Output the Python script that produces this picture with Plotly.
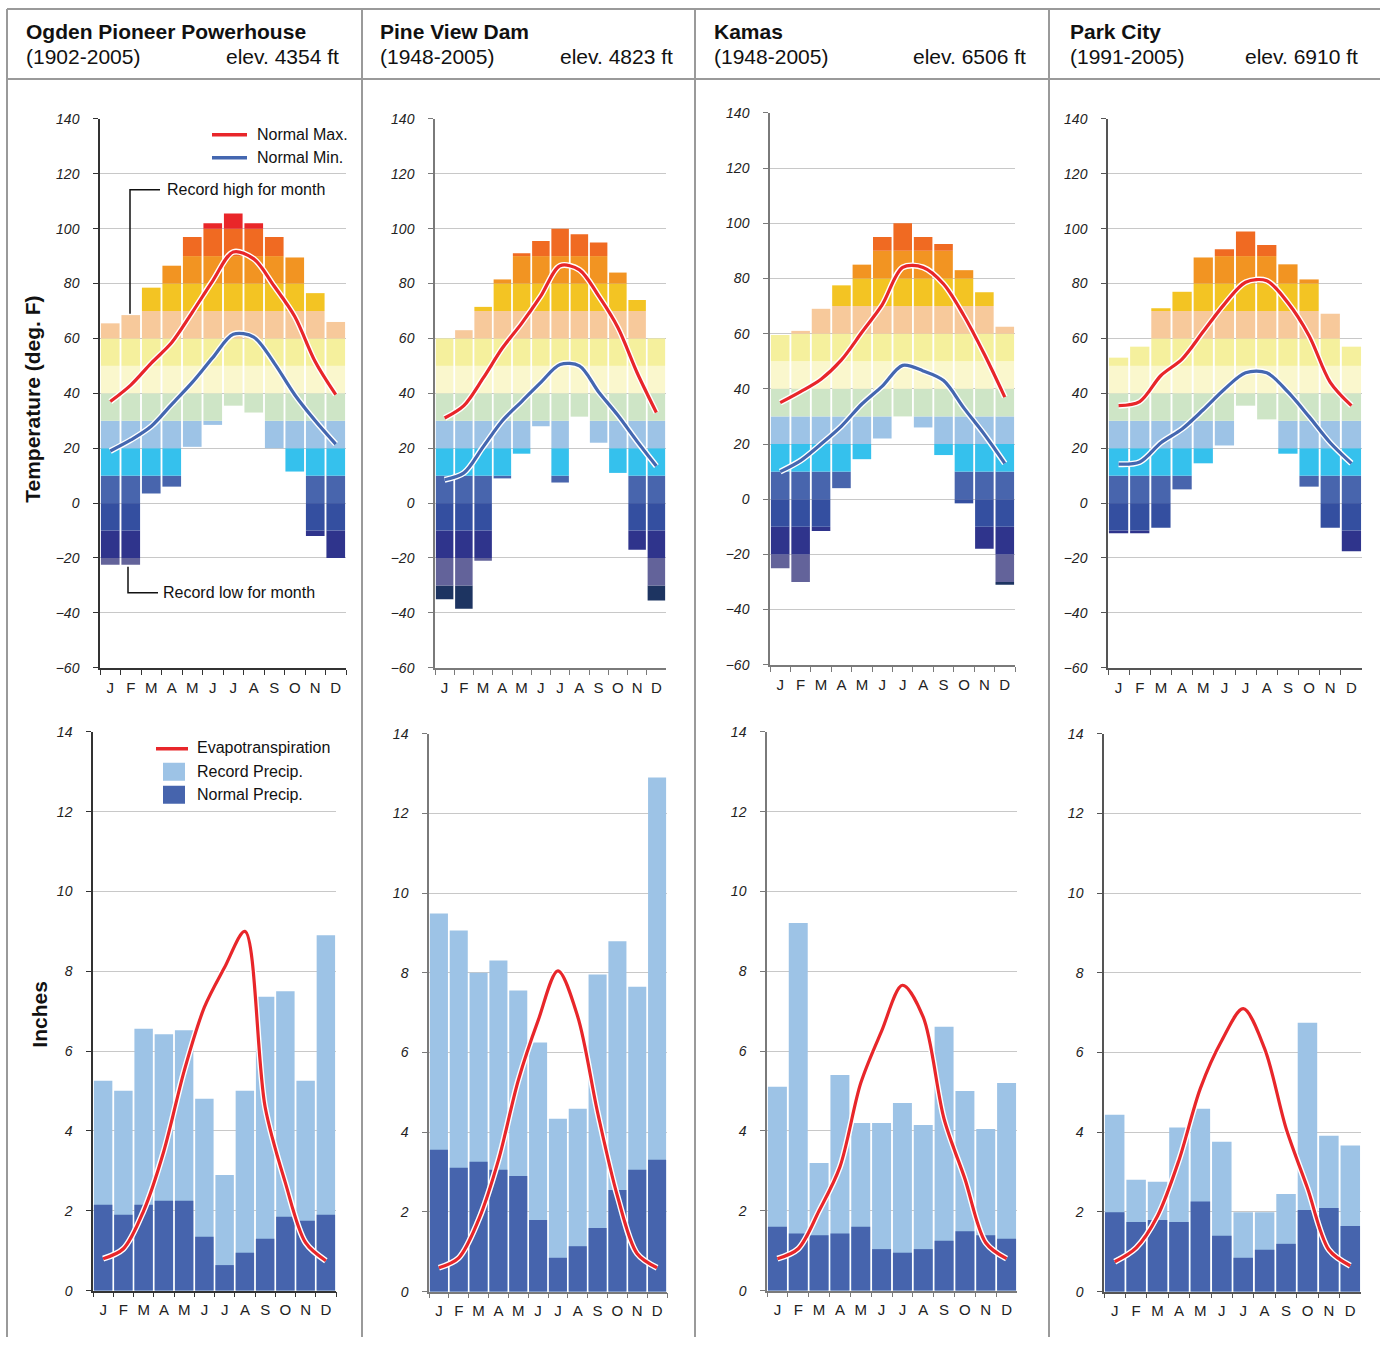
import plotly.graph_objects as go

W, H = 1380, 1345

MONTHS = ["Jan", "Feb", "Mar", "Apr", "May", "Jun", "Jul", "Aug", "Sep", "Oct", "Nov", "Dec"]
MONTH_LABELS = ["J", "F", "M", "A", "M", "J", "J", "A", "S", "O", "N", "D"]

STATIONS = ["Ogden Pioneer Powerhouse", "Pine View Dam", "Kamas", "Park City"]
PERIODS = ["(1902-2005)", "(1948-2005)", "(1948-2005)", "(1991-2005)"]
ELEVATIONS = ["elev. 4354 ft", "elev. 4823 ft", "elev. 6506 ft", "elev. 6910 ft"]

# temperature bands (deg F) and their colours
BAND_EDGES = [-40, -30, -20, -10, 0, 10, 20, 30, 40, 50, 60, 70, 80, 90, 100, 110]
BAND_COLORS = ["#1d3461", "#63639a", "#2f348c", "#344fa0", "#4865ad", "#35c1ed",
               "#9dc3e6", "#cee5c6", "#faf7cd", "#f5f09d", "#f7c99b", "#f3c423",
               "#f29422", "#f06a22", "#e92629"]

# ---- Ogden Pioneer Powerhouse ----
ogden_rec_high = [65.5, 68.5, 78.5, 86.5, 97, 102, 105.5, 102, 97, 89.5, 76.5, 66]
ogden_rec_low = [-22.5, -22.5, 3.5, 6, 20.5, 28.5, 35.5, 33, 20, 11.5, -12, -20]
ogden_norm_max = [37, 43, 51, 58.5, 69.5, 81, 91.5, 89, 79, 68, 51.5, 39.5]
ogden_norm_min = [19, 23, 28, 36, 44, 53, 61.5, 60.5, 51, 39.5, 30, 21.5]
ogden_rec_precip = [5.26, 5.01, 6.56, 6.42, 6.52, 4.81, 2.9, 5.01, 7.36, 7.5, 5.26, 8.9]
ogden_norm_precip = [2.15, 1.9, 2.15, 2.25, 2.25, 1.35, 0.64, 0.95, 1.3, 1.85, 1.75, 1.9]
ogden_et = [0.8, 1.05, 2.0, 3.5, 5.5, 7.1, 8.1, 9.0, 4.6, 2.7, 1.2, 0.75]

# ---- Pine View Dam ----
pine_rec_high = [60, 63, 71.5, 81.5, 91, 95.5, 100, 98, 95, 84, 74, 60]
pine_rec_low = [-35, -38.5, -21, 9, 18, 28, 7.5, 31.5, 22, 11, -17, -35.5]
pine_norm_max = [31, 35.5, 45.5, 56.5, 65.5, 75.5, 86.5, 85, 75.5, 64, 47.5, 33]
pine_norm_min = [8.5, 11, 20.5, 30, 37, 44, 50.5, 50, 40.5, 32, 22.5, 13.5]
pine_rec_precip = [9.49, 9.06, 8.0, 8.31, 7.56, 6.25, 4.34, 4.59, 7.96, 8.79, 7.65, 12.9]
pine_norm_precip = [3.56, 3.11, 3.26, 3.06, 2.9, 1.8, 0.85, 1.14, 1.6, 2.55, 3.06, 3.31]
pine_et = [0.6, 0.85, 1.8, 3.3, 5.3, 6.8, 8.05, 6.9, 4.5, 2.4, 0.95, 0.6]

# ---- Kamas ----
kamas_rec_high = [59.5, 61, 69, 77.5, 85, 95, 100, 95, 92.5, 83, 75, 62.5]
kamas_rec_low = [-25, -30, -11.5, 4, 14.5, 22, 30, 26, 16, -1.5, -18, -31]
kamas_norm_max = [35, 39, 43.5, 50.5, 60.5, 70.5, 84, 84, 78, 66.5, 52.5, 37]
kamas_norm_min = [10, 14, 20, 26.5, 34.5, 41, 48.5, 46.5, 43, 33, 23.5, 13]
kamas_rec_precip = [5.11, 9.21, 3.2, 5.4, 4.2, 4.2, 4.7, 4.15, 6.61, 5.0, 4.05, 5.2]
kamas_norm_precip = [1.6, 1.43, 1.39, 1.43, 1.6, 1.04, 0.95, 1.04, 1.25, 1.49, 1.39, 1.3]
kamas_et = [0.8, 1.05, 2.0, 3.1, 5.2, 6.5, 7.65, 6.85, 4.3, 2.8, 1.2, 0.8]

# ---- Park City ----
park_rec_high = [53, 57, 71, 77, 89.5, 92.5, 99, 94, 87, 81.5, 69, 57]
park_rec_low = [-11, -11, -9, 5, 14.5, 21, 35.5, 30.5, 18, 6, -9, -17.5]
park_norm_max = [35.5, 37, 46.5, 52.5, 62.5, 72.5, 80.5, 81, 73, 61, 44, 35.5]
park_norm_min = [14.2, 15, 22, 27, 34, 41.5, 47.5, 47.5, 40.5, 31.5, 22, 14.5]
park_rec_precip = [4.44, 2.81, 2.76, 4.12, 4.59, 3.76, 1.99, 1.99, 2.45, 6.75, 3.91, 3.67]
park_norm_precip = [1.99, 1.75, 1.8, 1.75, 2.26, 1.4, 0.85, 1.05, 1.2, 2.05, 2.1, 1.65]
park_et = [0.75, 1.1, 1.9, 3.3, 5.1, 6.3, 7.1, 6.1, 4.1, 2.6, 1.05, 0.65]

DATA = [
    (ogden_rec_high, ogden_rec_low, ogden_norm_max, ogden_norm_min, ogden_rec_precip, ogden_norm_precip, ogden_et),
    (pine_rec_high, pine_rec_low, pine_norm_max, pine_norm_min, pine_rec_precip, pine_norm_precip, pine_et),
    (kamas_rec_high, kamas_rec_low, kamas_norm_max, kamas_norm_min, kamas_rec_precip, kamas_norm_precip, kamas_et),
    (park_rec_high, park_rec_low, park_norm_max, park_norm_min, park_rec_precip, park_norm_precip, park_et),
]

# layout boxes in pixels: (x0, x1, ytop, ybottom)
TEMP_BOX = [(100, 346, 118, 667), (435, 666, 118, 667), (770, 1015, 112, 664), (1108, 1362, 118, 667)]
PREC_BOX = [(93, 336, 731, 1290), (429, 667, 733, 1291), (767, 1017, 731, 1290), (1104, 1361, 733, 1291)]
AXIS_LINE = ["#333333", "#7a7a7a", "#7a7a7a", "#555555"]

FONT = "Arial, Liberation Sans, sans-serif"
RED = "#e8262a"
BLUE = "#4467b0"
LIGHT_P = "#9dc3e6"
DARK_P = "#4664ad"

# vertical placement correction measured from the rendered page
Y_OFF, Y_SCALE = 7.1, 0.9883


def px(x):
    return x / W


def py(y):
    return 1 - ((y - Y_OFF) / Y_SCALE) / H


fig = go.Figure()
layout = {}

for i in range(4):
    rec_high, rec_low, nmax, nmin, rprec, nprec, et = DATA[i]
    tx, ty = f"x{2 * i + 1}", f"y{2 * i + 1}"
    bx, by = f"x{2 * i + 2}", f"y{2 * i + 2}"

    # temperature band bars
    for b in range(len(BAND_COLORS)):
        lo_b, hi_b = BAND_EDGES[b], BAND_EDGES[b + 1]
        bases, heights = [], []
        for m in range(12):
            lo = max(rec_low[m], lo_b)
            hi = min(rec_high[m], hi_b)
            bases.append(lo)
            heights.append(max(0, hi - lo))
        fig.add_trace(go.Bar(x=MONTHS, y=heights, base=bases, marker=dict(color=BAND_COLORS[b], line=dict(width=0)),
                             xaxis=tx, yaxis=ty, showlegend=False, hoverinfo="skip"))
    for series, col in ((nmax, RED), (nmin, BLUE)):
        fig.add_trace(go.Scatter(x=MONTHS, y=series, mode="lines",
                                 line=dict(color="white", width=6, shape="spline", smoothing=0.9),
                                 xaxis=tx, yaxis=ty, showlegend=False, hoverinfo="skip"))
        fig.add_trace(go.Scatter(x=MONTHS, y=series, mode="lines",
                                 line=dict(color=col, width=3.2, shape="spline", smoothing=0.9),
                                 xaxis=tx, yaxis=ty, showlegend=False))

    # precipitation
    fig.add_trace(go.Bar(x=MONTHS, y=rprec, marker=dict(color=LIGHT_P, line=dict(width=0)),
                         xaxis=bx, yaxis=by, showlegend=False))
    fig.add_trace(go.Bar(x=MONTHS, y=nprec, marker=dict(color=DARK_P, line=dict(width=0)),
                         xaxis=bx, yaxis=by, showlegend=False))
    fig.add_trace(go.Scatter(x=MONTHS, y=et, mode="lines",
                             line=dict(color="white", width=6, shape="spline", smoothing=0.9),
                             xaxis=bx, yaxis=by, showlegend=False, hoverinfo="skip"))
    fig.add_trace(go.Scatter(x=MONTHS, y=et, mode="lines",
                             line=dict(color=RED, width=3.2, shape="spline", smoothing=0.9),
                             xaxis=bx, yaxis=by, showlegend=False))

    for k, (box, rng, dt) in enumerate(((TEMP_BOX[i], [-60, 140], 20), (PREC_BOX[i], [0, 14], 2))):
        n = 2 * i + 1 + k
        x0, x1, yt, yb = box
        xa = dict(domain=[px(x0), px(x1)], anchor=f"y{n}", type="category",
                  categoryorder="array", categoryarray=MONTHS,
                  tickmode="array", tickvals=MONTHS, ticktext=MONTH_LABELS, tickangle=0,
                  tickson="boundaries", ticks="outside", ticklen=5, tickcolor=AXIS_LINE[i],
                  ticklabelstandoff=5,
                  showline=True, linecolor=AXIS_LINE[i], linewidth=1.5, showgrid=False,
                  tickfont=dict(family=FONT, size=15, color="#222"), fixedrange=True)
        ya = dict(domain=[py(yb), py(yt)], anchor=f"x{n}", range=rng, dtick=dt, tick0=0,
                  showgrid=True, gridcolor="#c8c8c8", gridwidth=1, zeroline=False,
                  showline=True, linecolor=AXIS_LINE[i], linewidth=1.5,
                  ticks="outside", ticklen=5, tickcolor=AXIS_LINE[i], ticklabelstandoff=11,
                  tickfont=dict(family=FONT, size=14, color="#222", style="italic"), fixedrange=True)
        layout["xaxis" if n == 1 else f"xaxis{n}"] = xa
        layout["yaxis" if n == 1 else f"yaxis{n}"] = ya

shapes = []
annotations = []

# frame lines
GRAY = "#9a9a9a"
shapes.append(dict(type="line", xref="paper", yref="paper", x0=px(7), x1=1, y0=py(8), y1=py(8), line=dict(color=GRAY, width=2)))
shapes.append(dict(type="line", xref="paper", yref="paper", x0=px(7), x1=1, y0=py(78), y1=py(78), line=dict(color=GRAY, width=2)))
for xv in (7, 362, 695, 1049):
    shapes.append(dict(type="line", xref="paper", yref="paper", x0=px(xv), x1=px(xv), y0=py(8), y1=0,
                       line=dict(color=GRAY, width=2)))

# headers
TITLE_X = [24, 378, 712, 1068]
ELEV_X = [341, 675, 1028, 1360]
HFONT = dict(family=FONT, size=21, color="#111")
for i in range(4):
    annotations.append(dict(text=f"<b>{STATIONS[i]}</b>", x=px(TITLE_X[i]), y=py(31), xref="paper", yref="paper",
                            xanchor="left", yanchor="middle", showarrow=False, font=HFONT))
    annotations.append(dict(text=PERIODS[i], x=px(TITLE_X[i]), y=py(56), xref="paper", yref="paper",
                            xanchor="left", yanchor="middle", showarrow=False, font=HFONT))
    annotations.append(dict(text=ELEVATIONS[i], x=px(ELEV_X[i]), y=py(56), xref="paper", yref="paper",
                            xanchor="right", yanchor="middle", showarrow=False, font=HFONT))

# axis titles
annotations.append(dict(text="<b>Temperature (deg. F)</b>", x=px(33), y=py(399), xref="paper", yref="paper",
                        xanchor="center", yanchor="middle",
                        textangle=-90, showarrow=False, font=dict(family=FONT, size=21, color="#111")))
annotations.append(dict(text="<b>Inches</b>", x=px(40), y=py(1014), xref="paper", yref="paper",
                        xanchor="center", yanchor="middle",
                        textangle=-90, showarrow=False, font=dict(family=FONT, size=21, color="#111")))

small = dict(family=FONT, size=16, color="#111")

# temperature legend
for yv, col, lab in ((134, RED, "Normal Max."), (157, BLUE, "Normal Min.")):
    shapes.append(dict(type="line", xref="paper", yref="paper", x0=px(212), x1=px(247), y0=py(yv), y1=py(yv),
                       line=dict(color=col, width=3.5)))
    annotations.append(dict(text=lab, x=px(255), y=py(yv), xref="paper", yref="paper", xanchor="left",
                            yanchor="middle", showarrow=False, font=small))

# record high / low callouts
shapes.append(dict(type="path", xref="paper", yref="paper",
                   path=f"M {px(160)},{py(189)} L {px(130)},{py(189)} L {px(130)},{py(313)}",
                   line=dict(color="#111", width=1.5)))
annotations.append(dict(text="Record high for month", x=px(165), y=py(189), xref="paper", yref="paper",
                        xanchor="left", yanchor="middle", showarrow=False, font=small))
shapes.append(dict(type="path", xref="paper", yref="paper",
                   path=f"M {px(128)},{py(566)} L {px(128)},{py(592)} L {px(158)},{py(592)}",
                   line=dict(color="#111", width=1.5)))
annotations.append(dict(text="Record low for month", x=px(161), y=py(592), xref="paper", yref="paper",
                        xanchor="left", yanchor="middle", showarrow=False, font=small))

# precipitation legend
shapes.append(dict(type="line", xref="paper", yref="paper", x0=px(156), x1=px(188), y0=py(748), y1=py(748),
                   line=dict(color=RED, width=3.5)))
annotations.append(dict(text="Evapotranspiration", x=px(195), y=py(747), xref="paper", yref="paper",
                        xanchor="left", yanchor="middle", showarrow=False, font=small))
for (y0, y1, col, lab) in ((762, 780, LIGHT_P, "Record Precip."), (785, 803, DARK_P, "Normal Precip.")):
    shapes.append(dict(type="rect", xref="paper", yref="paper", x0=px(163), x1=px(185), y0=py(y1), y1=py(y0),
                       fillcolor=col, line=dict(width=0)))
    annotations.append(dict(text=lab, x=px(195), y=py((y0 + y1) / 2), xref="paper", yref="paper",
                            xanchor="left", yanchor="middle", showarrow=False, font=small))

fig.update_layout(
    width=W, height=H, margin=dict(l=0, r=0, t=0, b=0),
    paper_bgcolor="white", plot_bgcolor="white",
    barmode="overlay", bargap=0.09, showlegend=False,
    shapes=shapes, annotations=annotations,
    font=dict(family=FONT),
    **layout,
)

fig.write_html("out.html", config={"displayModeBar": False},
               post_script="document.body.style.margin='0';document.body.style.overflow='hidden';")
